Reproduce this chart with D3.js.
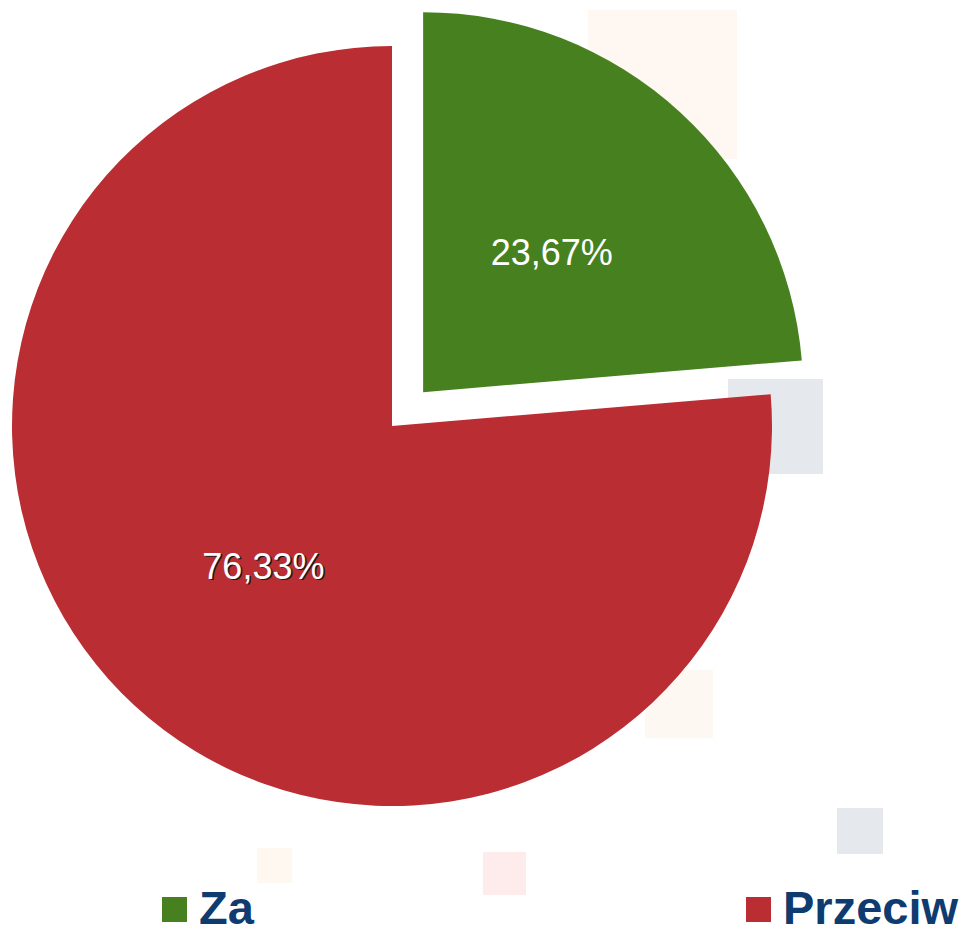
<!doctype html>
<html lang="en">
<head>
  <meta charset="utf-8">
  <title>Za / Przeciw</title>
  <script src="https://d3js.org/d3.v7.min.js"></script>
  <style>
    body { margin: 0; background: #fff; }
  </style>
</head>
<body>
  <div id="chart"></div>
  <script type="text/javascript">

    var width = 962, height = 928;

    // data
    var labels = ['Za', 'Przeciw'];
    var values = [23.67, 76.33];
    var colors = ['#47801e', '#ba2d32'];
    var exploded = [true, false];

    // faint decorative squares in the background [x, y, size, colour]
    var bgSquares = [
      [588, 10, 149, '#fef7f2'],
      [728, 379, 95, '#e5e9ee'],
      [645, 670, 68, '#fef8f2'],
      [837, 808, 46, '#e5e9ee'],
      [257, 848, 35, '#fef8f0'],
      [483, 852, 43, '#feebeb']
    ];

    var cx = 392, cy = 426, radius = 380, explode = 46;

    var svg = d3.select('#chart')
                .append('svg')
                .attr('width', width)
                .attr('height', height)
                .style('font-family', 'Arial, "Liberation Sans", sans-serif');

    svg.selectAll('.bg')
       .data(bgSquares)
       .enter()
       .append('rect')
       .attr('class', 'bg')
       .attr('x', function(d) { return d[0]; })
       .attr('y', function(d) { return d[1]; })
       .attr('width', function(d) { return d[2]; })
       .attr('height', function(d) { return d[2]; })
       .attr('fill', function(d) { return d[3]; });

    var pie = d3.pie().sort(null).value(function(d) { return d; });
    var arc = d3.arc().innerRadius(0).outerRadius(radius);

    var g = svg.append('g')
               .attr('transform', 'translate(' + cx + ',' + cy + ')');

    var slices = g.selectAll('.slice')
                  .data(pie(values))
                  .enter()
                  .append('g')
                  .attr('class', 'slice')
                  .attr('transform', function(d, i) {
                    if (!exploded[i]) return null;
                    var a = (d.startAngle + d.endAngle) / 2;
                    return 'translate(' + (Math.sin(a) * explode) + ',' + (-Math.cos(a) * explode) + ')';
                  });

    slices.append('path')
          .attr('d', arc)
          .attr('fill', function(d, i) { return colors[i]; });

    var fmt = function(v) { return v.toFixed(2).replace('.', ',') + '%'; };

    // shadow only on the red slice label
    slices.filter(function(d, i) { return i === 1; })
          .append('text')
          .attr('transform', function(d) {
            var c = arc.centroid(d);
            return 'translate(' + (c[0] + 1.5) + ',' + (c[1] + 1.5) + ')';
          })
          .attr('text-anchor', 'middle')
          .attr('dy', '0.36em')
          .style('font-size', '36px')
          .attr('fill', '#1a1a1a')
          .text(function(d) { return fmt(d.data); });

    slices.append('text')
          .attr('transform', function(d) { return 'translate(' + arc.centroid(d) + ')'; })
          .attr('text-anchor', 'middle')
          .attr('dy', '0.36em')
          .style('font-size', '36px')
          .attr('fill', '#fff')
          .text(function(d) { return fmt(d.data); });

    // legend
    var legendX = [162, 746];
    var legend = svg.selectAll('.legend')
                    .data(labels)
                    .enter()
                    .append('g')
                    .attr('class', 'legend')
                    .attr('transform', function(d, i) { return 'translate(' + legendX[i] + ',897)'; });

    legend.append('rect')
          .attr('width', 25)
          .attr('height', 25)
          .attr('fill', function(d, i) { return colors[i]; });

    legend.append('text')
          .attr('x', 37)
          .attr('y', 27)
          .style('font-size', '47px')
          .style('font-weight', 'bold')
          .attr('fill', '#0e3b70')
          .text(function(d) { return d; });

  </script>
</body>
</html>
